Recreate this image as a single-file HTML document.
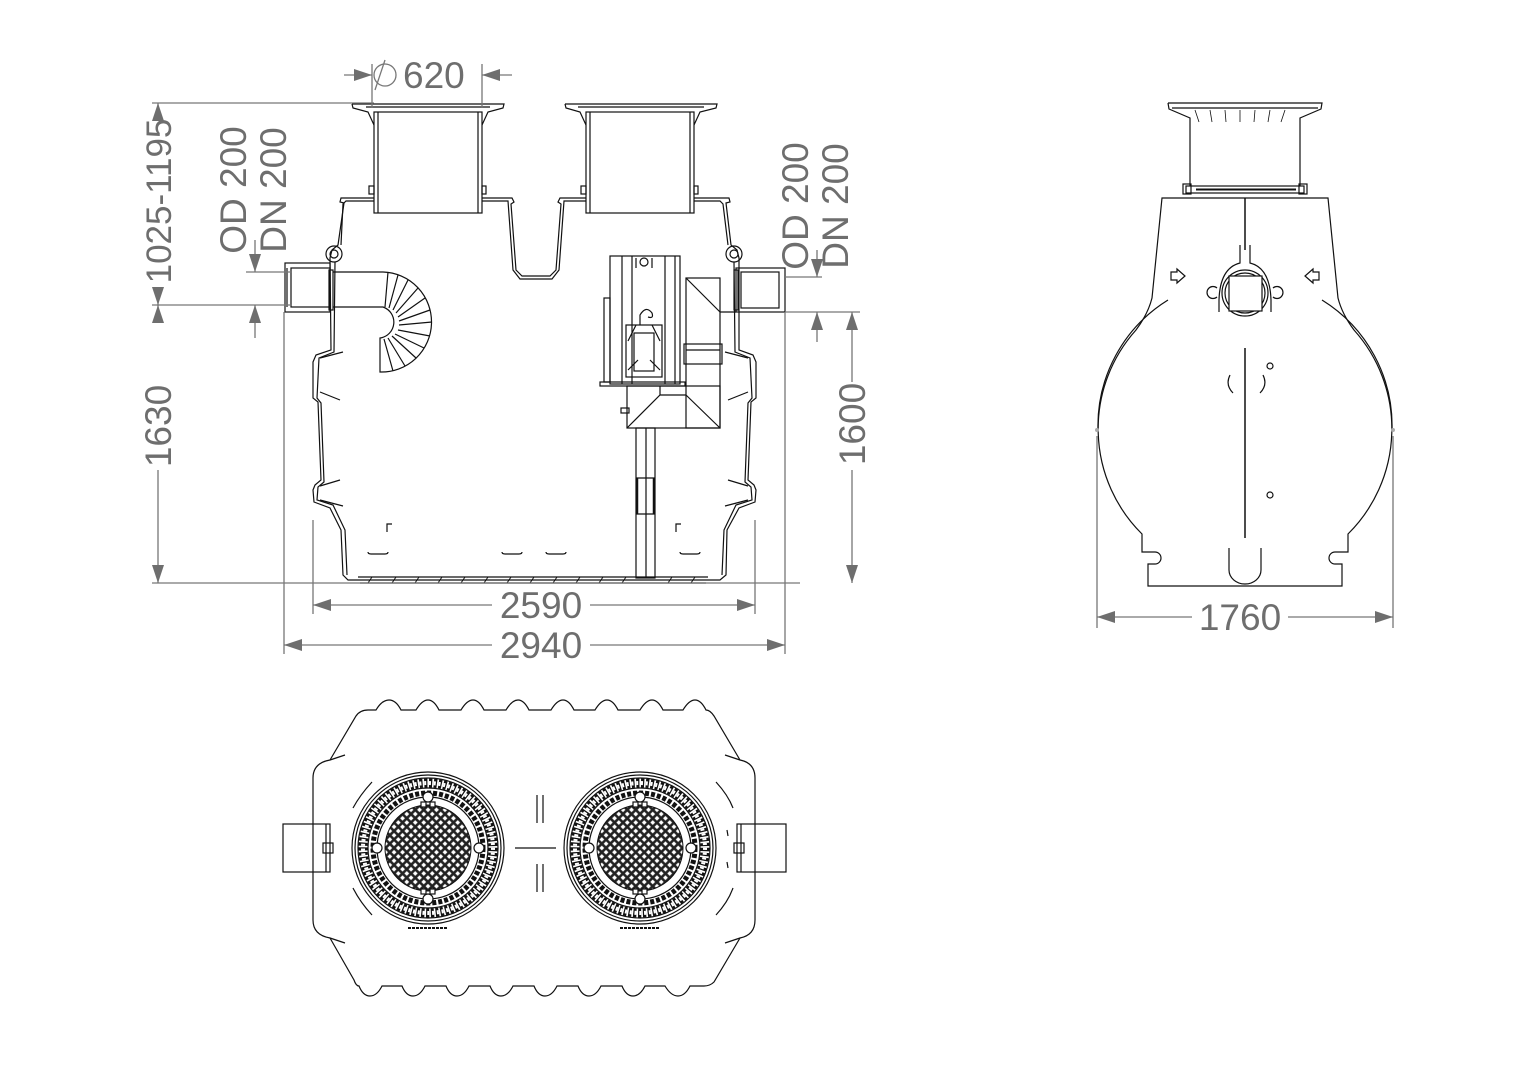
<!DOCTYPE html>
<html><head><meta charset="utf-8"><style>
html,body{margin:0;padding:0;background:#fff}
svg{display:block}
.d{stroke:#777;stroke-width:1.3;fill:none}
.t{font-family:"Liberation Sans",sans-serif;font-size:37px;fill:#6e6e6e}
.k{stroke:#111;stroke-width:1.2;fill:none}
.kw{stroke:#111;stroke-width:1.2;fill:#fff}
.ah{fill:#6e6e6e}
</style></head><body>
<svg width="1528" height="1080" viewBox="0 0 1528 1080" xmlns="http://www.w3.org/2000/svg">
<defs>
<pattern id="grid" width="6" height="6" patternUnits="userSpaceOnUse" patternTransform="rotate(45)">
<rect width="6" height="6" fill="#222"/><rect x="1.3" y="1.3" width="3.4" height="3.4" fill="#fff"/>
</pattern>
<g id="cover">
<circle r="76" class="k"/>
<circle r="73" class="k"/>
<circle r="65" fill="none" stroke="#111" stroke-width="9" stroke-dasharray="3.2 1.6"/>
<circle r="65" fill="none" stroke="#fff" stroke-width="4" stroke-dasharray="2 2.8"/>
<circle r="70" class="k"/>
<circle r="60" class="k"/>
<circle r="55" fill="none" stroke="#111" stroke-width="5" stroke-dasharray="4 2"/>
<circle r="51" class="k"/>
<circle r="43" fill="url(#grid)" stroke="#111"/>
<circle cx="0" cy="-51" r="5" class="kw"/><circle cx="0" cy="51" r="5" class="kw"/>
<circle cx="-51" cy="0" r="5" class="kw"/><circle cx="51" cy="0" r="5" class="kw"/>
<rect x="-7" y="-46" width="5" height="5" class="kw"/><rect x="2" y="-46" width="5" height="5" class="kw"/>
<rect x="-7" y="41" width="5" height="5" class="kw"/><rect x="2" y="41" width="5" height="5" class="kw"/>
<path d="M-20 80 H20" stroke="#111" stroke-width="2" stroke-dasharray="3 1"/>
</g>
</defs>

<!-- ============ FRONT VIEW ============ -->
<g class="k">
<path d="M352 104 H504 L503 108 L488 112 L482 125 M352 104 L353 108 L368 112 L374 125"/>
<rect x="374" y="112" width="108" height="101"/>
<line x1="378" y1="112" x2="378" y2="213"/><line x1="478" y1="112" x2="478" y2="213"/>
<line x1="366" y1="107" x2="490" y2="107"/>
<rect x="369" y="186" width="5" height="8"/><rect x="482" y="186" width="4" height="8"/>
<path d="M565 104 H717 L716 108 L700 112 L694 125 M565 104 L566 108 L580 112 L586 125"/>
<rect x="586" y="112" width="108" height="101"/>
<line x1="590" y1="112" x2="590" y2="213"/><line x1="690" y1="112" x2="690" y2="213"/>
<line x1="578" y1="107" x2="704" y2="107"/>
<rect x="581" y="186" width="5" height="8"/><rect x="694" y="186" width="4" height="8"/>
</g>
<path class="k" d="M374 198 H341 L340 202 L344 203 L338 245 L332 250 L330 258 L331 350 L316 355 L313 362 L313 398 L318 402 L321 480 L315 485 L313 490 L314 502 L330 508 L341 530 L343 575 L348 580 L720 580 L726 575 L727 530 L739 508 L755 502 L756 490 L754 485 L748 480 L751 402 L756 398 L756 362 L753 355 L739 350 L739 258 L737 250 L731 245 L726 203 L730 202 L729 198 H694"/>
<path class="k" d="M374 201 H346 L343 204 L341 245 M335 262 L334 352 L319 358 L317 398 L321 403 L324 482 L318 487 L317 500 L333 505 L345 530 L347 575 M722 575 L724 530 L736 505 L752 500 L751 487 L745 482 L748 403 L752 398 L750 358 L735 352 L734 262 M728 245 L723 204 L720 201 H694"/>
<path class="k" d="M482 198 H512 L514 202 L511 204 L516 270 L522 276 L550 276 L556 270 L561 204 L558 202 L560 198 H586"/>
<path class="k" d="M482 201 H508 L513 270 L520 279 L552 279 L559 270 L564 201 H586"/>
<circle cx="334" cy="254" r="8" class="k"/><circle cx="334" cy="254" r="4" class="k"/>
<circle cx="734" cy="254" r="8" class="k"/><circle cx="734" cy="254" r="4" class="k"/>
<path class="k" d="M358 577 H708 M360 583 H706"/>
<path stroke="#111" stroke-width="1" d="M368 583 l4 -6 M392 583 l4 -6 M415 583 l4 -6 M438 583 l4 -6 M461 583 l4 -6 M484 583 l4 -6 M507 583 l4 -6 M530 583 l4 -6 M553 583 l4 -6 M576 583 l4 -6 M599 583 l4 -6 M622 583 l4 -6 M668 583 l4 -6 M691 583 l4 -6"/>
<path class="k" d="M368 552 q0 2 3 2 h14 q3 0 3 -2 M502 552 q0 2 3 2 h14 q3 0 3 -2 M546 552 q0 2 3 2 h14 q3 0 3 -2 M680 552 q0 2 3 2 h14 q3 0 3 -2 M387 532 v-8 h5 M676 532 v-8 h5"/>
<path class="k" d="M320 358 l23 -6 M320 392 l20 8 M320 486 l20 -6 M320 500 l23 6 M748 358 l-23 -6 M748 392 l-20 8 M748 486 l-20 -6 M748 500 l-23 6"/>
<g class="k">
<rect x="285" y="263" width="45" height="49"/>
<rect x="291" y="268" width="39" height="39"/>
<line x1="287" y1="268" x2="287" y2="307"/>
<rect x="329" y="270" width="4" height="40"/>
<path d="M333 272 H383 A50 50 0 0 1 380 372 L380 338 A16 16 0 0 0 383 307 H333"/>
<path d="M388 272 L385 307 M398 275 L389 308 M408 280 L393 310 M418 288 L396 313 M425 298 L398 317 M430 310 L399 321 M432 322 L399 325 M430 336 L398 330 M424 348 L395 334 M416 358 L392 336 M405 366 L388 338 M393 371 L384 339"/>
</g>
<g class="k">
<rect x="610" y="256" width="70" height="128"/>
<line x1="622" y1="256" x2="622" y2="384"/><line x1="632" y1="256" x2="632" y2="384"/>
<line x1="665" y1="256" x2="665" y2="384"/><line x1="675" y1="256" x2="675" y2="384"/>
<rect x="604" y="298" width="6" height="84"/>
<rect x="600" y="382" width="85" height="4"/>
<rect x="626" y="325" width="36" height="52"/>
<rect x="634" y="333" width="20" height="38"/>
<path d="M636 325 l-8 16 M652 325 l8 16 M628 370 l10 -10 M660 370 l-10 -10 M640 325 v-10 q6 -10 12 -2 q2 6 -4 4"/>
<circle cx="644" cy="262" r="4"/><path d="M636 258 v10 M652 258 v10"/>
<rect x="686" y="278" width="34" height="150"/>
<path d="M686 278 L720 312 M720 312 H736"/>
<rect x="684" y="344" width="38" height="20"/>
<line x1="686" y1="350" x2="720" y2="350"/>
<rect x="627" y="386" width="93" height="42"/>
<path d="M627 428 L660 395 H686 M720 428 L686 395 M660 386 V395"/>
<rect x="621" y="408" width="8" height="5"/>
<rect x="636" y="428" width="19" height="150"/>
<line x1="646" y1="428" x2="646" y2="578"/>
<line x1="636" y1="478" x2="655" y2="478"/>
<line x1="636" y1="514" x2="655" y2="514"/>
<line x1="637" y1="478" x2="637" y2="514" stroke-width="2.5"/><line x1="654" y1="478" x2="654" y2="514" stroke-width="2.5"/>
</g>
<g class="k">
<rect x="736" y="268" width="49" height="44"/>
<rect x="741" y="272" width="38" height="36"/>
<rect x="734" y="270" width="4" height="40"/>
</g>

<g class="d">
<line x1="372" y1="64" x2="372" y2="108"/><line x1="482" y1="64" x2="482" y2="108"/>
<line x1="344" y1="75" x2="372" y2="75"/><line x1="482" y1="75" x2="512" y2="75"/>
<line x1="152" y1="103" x2="374" y2="103"/>
<line x1="152" y1="305" x2="292" y2="305"/>
<line x1="246" y1="272" x2="292" y2="272"/>
<line x1="152" y1="583" x2="800" y2="583"/>
<line x1="158" y1="103" x2="158" y2="118"/><line x1="158" y1="288" x2="158" y2="305"/>
<line x1="158" y1="305" x2="158" y2="318"/><line x1="158" y1="470" x2="158" y2="583"/>
<line x1="255" y1="240" x2="255" y2="272"/><line x1="255" y1="305" x2="255" y2="338"/>
<line x1="785" y1="277" x2="822" y2="277"/>
<line x1="785" y1="312" x2="860" y2="312"/>
<line x1="817" y1="250" x2="817" y2="277"/><line x1="817" y1="312" x2="817" y2="342"/>
<line x1="852" y1="312" x2="852" y2="382"/><line x1="852" y1="470" x2="852" y2="583"/>
<line x1="313" y1="520" x2="313" y2="614"/><line x1="755" y1="520" x2="755" y2="614"/>
<line x1="284" y1="312" x2="284" y2="654"/><line x1="785" y1="312" x2="785" y2="654"/>
<line x1="313" y1="605" x2="492" y2="605"/><line x1="590" y1="605" x2="755" y2="605"/>
<line x1="284" y1="645" x2="492" y2="645"/><line x1="590" y1="645" x2="785" y2="645"/>
<line x1="385" y1="60" x2="375" y2="90"/>
</g>
<g class="ah">
<polygon points="372,75 354,69 354,81"/><polygon points="482,75 500,69 500,81"/>
<polygon points="158,103 152,121 164,121"/><polygon points="158,305 152,287 164,287"/>
<polygon points="158,305 152,323 164,323"/><polygon points="158,583 152,565 164,565"/>
<polygon points="255,272 249,254 261,254"/><polygon points="255,305 249,323 261,323"/>
<polygon points="817,277 811,259 823,259"/><polygon points="817,312 811,330 823,330"/>
<polygon points="852,312 846,330 858,330"/><polygon points="852,583 846,565 858,565"/>
<polygon points="313,605 331,599 331,611"/><polygon points="755,605 737,599 737,611"/>
<polygon points="284,645 302,639 302,651"/><polygon points="785,645 767,639 767,651"/>
</g>
<text class="t" x="403" y="88">620</text>
<circle cx="385" cy="75" r="11" class="d"/>
<text class="t" transform="translate(171,201) rotate(-90)" text-anchor="middle" style="font-size:35px">1025-1195</text>
<text class="t" transform="translate(171,426) rotate(-90)" text-anchor="middle">1630</text>
<text class="t" transform="translate(246,190) rotate(-90)" text-anchor="middle">OD 200</text>
<text class="t" transform="translate(286,190) rotate(-90)" text-anchor="middle">DN 200</text>
<text class="t" transform="translate(808,206) rotate(-90)" text-anchor="middle">OD 200</text>
<text class="t" transform="translate(848,206) rotate(-90)" text-anchor="middle">DN 200</text>
<text class="t" transform="translate(865,424) rotate(-90)" text-anchor="middle">1600</text>
<text class="t" x="541" y="618" text-anchor="middle">2590</text>
<text class="t" x="541" y="658" text-anchor="middle">2940</text>

<!-- ============ SIDE VIEW ============ -->
<g class="k">
<path d="M1168 103 H1322 L1321 109 L1300 118 L1300 186 M1168 103 L1169 109 L1190 118 L1190 186"/>
<line x1="1172" y1="108" x2="1318" y2="108"/>
<path stroke-width="0.8" d="M1195 110 l4 12 M1210 110 l2 12 M1225 110 l1 12 M1240 110 v12 M1255 110 l-1 12 M1270 110 l-2 12 M1285 110 l-4 12"/>
<rect x="1186" y="186" width="118" height="7"/>
<line x1="1196" y1="189.5" x2="1296" y2="189.5" stroke-width="2"/>
<rect x="1183" y="184" width="8" height="10"/><rect x="1299" y="184" width="8" height="10"/>
<path d="M1162 198 H1328 L1338 298 Q1342 314 1354 330 A148 148 0 0 1 1348 534 L1348 552 L1335 552 A6 6 0 0 0 1335 564 L1342 564 L1342 586 L1148 586 L1148 564 L1155 564 A6 6 0 0 0 1155 552 L1142 552 L1142 534 A148 148 0 0 1 1136 330 Q1148 314 1152 298 Z"/>
<path d="M1098 430 A148 148 0 0 1 1168 300 M1392 430 A148 148 0 0 0 1322 300"/>
<line x1="1245" y1="198" x2="1245" y2="250" stroke-width="1.5"/>
<path d="M1240 245 V263 Q1220 268 1219 300 V312 M1250 245 V263 Q1270 268 1271 300 V312"/>
<circle cx="1245" cy="293" r="23"/><circle cx="1245" cy="293" r="20"/>
<rect x="1229" y="276" width="33" height="35" fill="#fff"/>
<path d="M1217 288 a6 6 0 1 0 0 9 M1273 288 a6 6 0 1 1 0 9"/>
<path d="M1171 272 h6 v-3 l8 7 -8 7 v-3 h-6 z M1319 272 h-6 v-3 l-8 7 8 7 v-3 h6 z"/>
<line x1="1245" y1="348" x2="1245" y2="538" stroke-width="1.5"/>
<circle cx="1270" cy="366" r="3"/><circle cx="1270" cy="495" r="3"/>
<path d="M1230 375 q-5 10 3 18 M1263 375 q5 10 -3 18"/>
<path d="M1229 548 V570 a16 14 0 0 0 32 0 V548"/>
</g>
<circle cx="1097" cy="430" r="2" fill="#aaa"/><circle cx="1393" cy="430" r="2" fill="#aaa"/>
<g class="d">
<line x1="1097" y1="436" x2="1097" y2="628"/><line x1="1393" y1="436" x2="1393" y2="628"/>
<line x1="1097" y1="617" x2="1192" y2="617"/><line x1="1288" y1="617" x2="1393" y2="617"/>
</g>
<g class="ah"><polygon points="1097,617 1115,611 1115,623"/><polygon points="1393,617 1375,611 1375,623"/></g>
<text class="t" x="1240" y="630" text-anchor="middle">1760</text>

<!-- ============ TOP VIEW ============ -->
<path class="k" d="M330 760 L356 716 Q360 710 368 710
 L376 710 Q382 700 389 700 Q396 700 401 710
 L416 710 Q422 700 428 700 Q434 700 439 710
 L461 710 Q467 700 473 700 Q479 700 484 710
 L506 710 Q512 700 518 700 Q524 700 529 710
 L551 710 Q557 700 563 700 Q569 700 574 710
 L595 710 Q601 700 607 700 Q613 700 618 710
 L640 710 Q646 700 652 700 Q658 700 663 710
 L683 710 Q689 700 695 700 Q701 700 706 710
 Q710 710 714 716 L740 760
 Q755 763 755 778 V920 Q755 935 740 938
 L714 982 Q710 986 704 986
 L690 986 Q685 996 678 996 Q671 996 665 986
 L645 986 Q640 996 633 996 Q626 996 622 986
 L601 986 Q596 996 589 996 Q582 996 578 986
 L557 986 Q552 996 545 996 Q538 996 534 986
 L513 986 Q508 996 501 996 Q494 996 490 986
 L469 986 Q464 996 457 996 Q450 996 446 986
 L425 986 Q420 996 413 996 Q406 996 402 986
 L382 986 Q377 996 370 996 Q363 996 359 986
 Q356 986 354 980
 L330 938 Q313 935 313 920 V778 Q313 763 330 760 Z"/>
<path class="k" d="M330 760 L345 755 M740 760 L725 755 M330 938 L345 943 M740 938 L725 943"/>
<g class="k">
<rect x="283" y="824" width="47" height="48"/>
<line x1="326" y1="824" x2="326" y2="872"/>
<rect x="323" y="843" width="10" height="10"/>
<rect x="737" y="824" width="49" height="48"/>
<line x1="741" y1="824" x2="741" y2="872"/>
<rect x="734" y="843" width="10" height="10"/>
<path d="M372 782 Q360 795 353 808 M353 888 Q360 902 372 915 M716 782 Q728 795 733 808 M716 915 Q728 902 733 888 M727 830 l1 6 M727 862 l1 6"/>
<line x1="537" y1="795" x2="537" y2="823"/><line x1="543" y1="795" x2="543" y2="823"/>
<line x1="537" y1="864" x2="537" y2="892"/><line x1="543" y1="864" x2="543" y2="892"/>
<line x1="515" y1="848" x2="556" y2="848"/>
</g>
<use href="#cover" x="428" y="848"/>
<use href="#cover" x="640" y="848"/>
</svg>
</body></html>
